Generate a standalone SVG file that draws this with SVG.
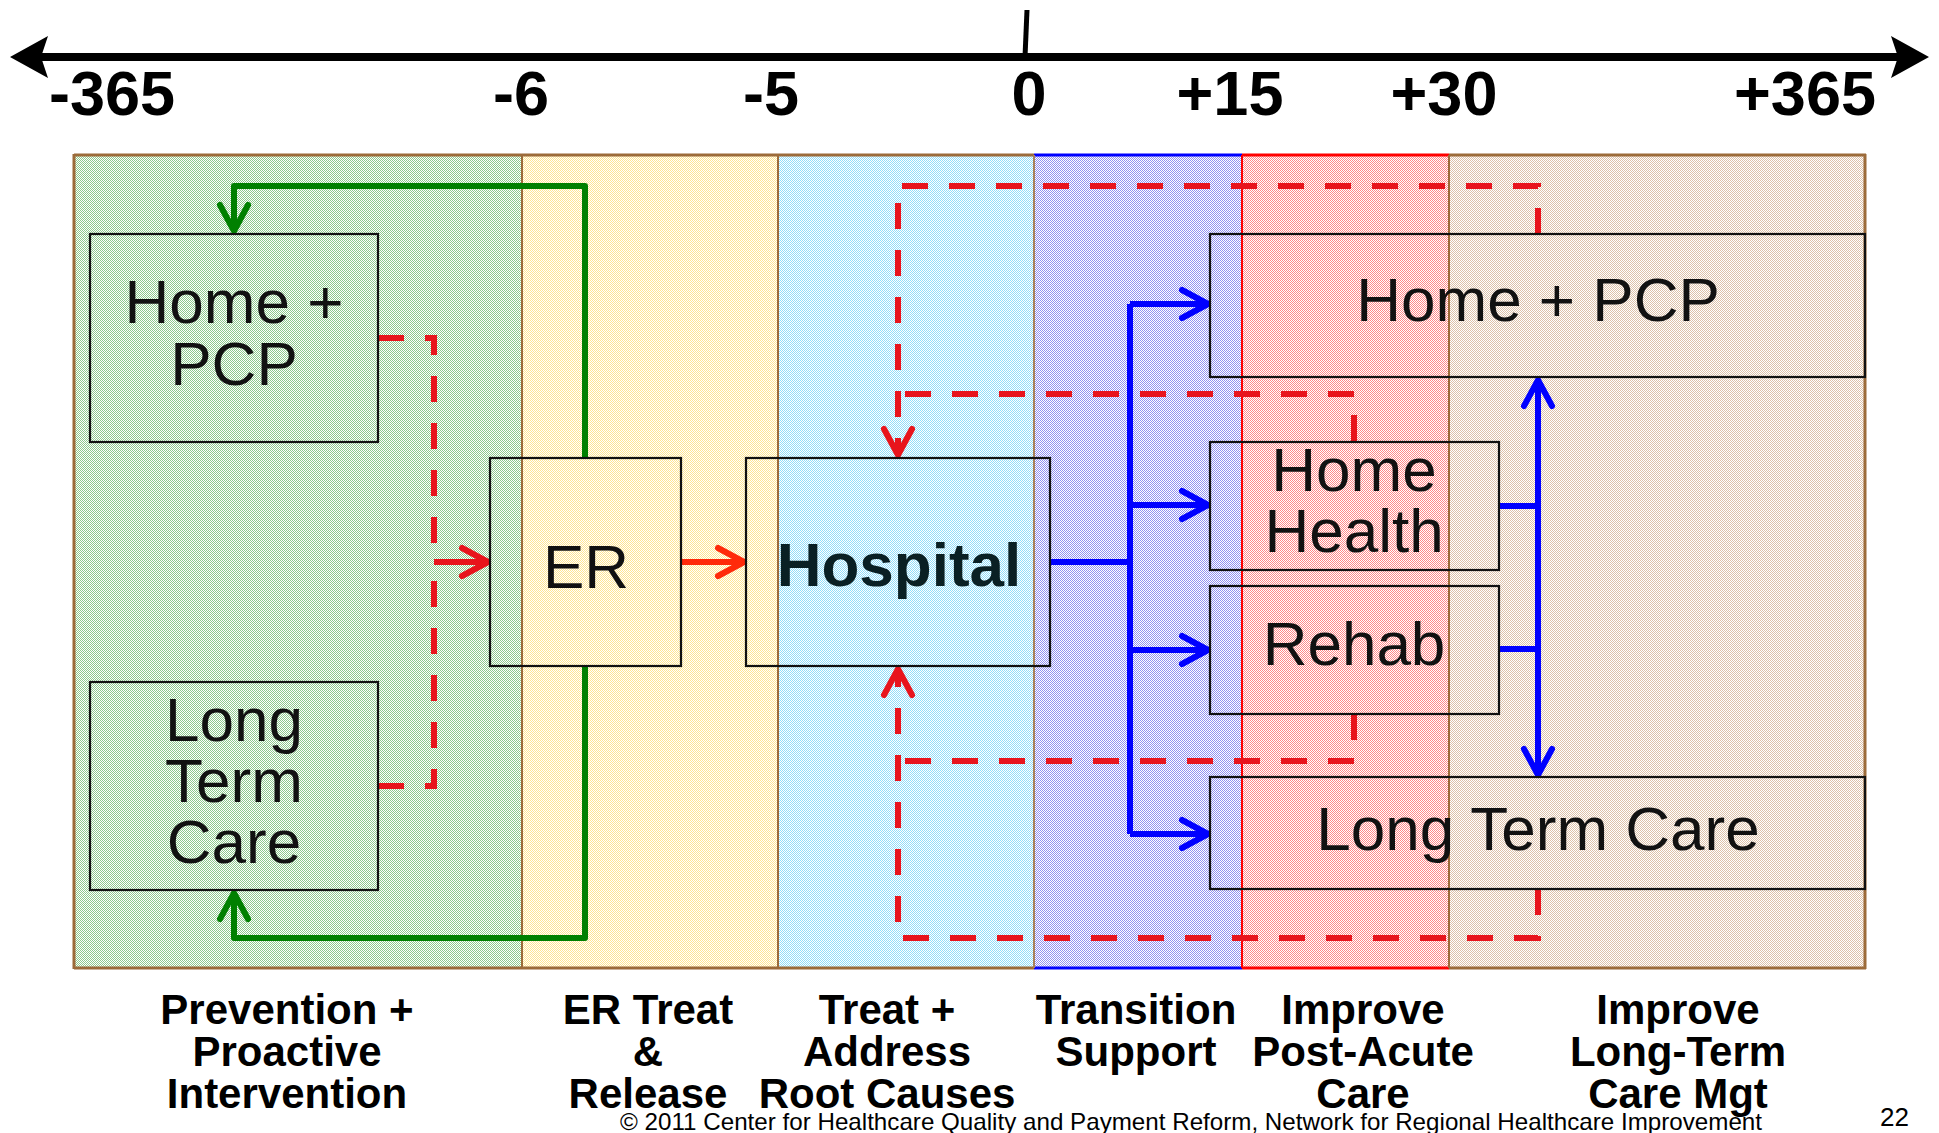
<svg xmlns="http://www.w3.org/2000/svg" width="1939" height="1133" viewBox="0 0 1939 1133">
  <style>
    .lbl { font-family: "Liberation Sans", Arial, sans-serif; fill: #111; }
    .axis { font-family: "Liberation Sans", Arial, sans-serif; font-weight: bold; font-size: 63px; fill: #000; text-anchor: middle; }
    .box { fill: none; stroke: #111; stroke-width: 2.2; }
    .node { font-size: 62px; text-anchor: middle; }
    .zone { font-family: "Liberation Sans", Arial, sans-serif; font-weight: bold; font-size: 42px; fill: #000; text-anchor: middle; }
    .green { fill: none; stroke: #008000; stroke-width: 6; stroke-linejoin: round; }
    .blue { fill: none; stroke: #0000ff; stroke-width: 6; stroke-linejoin: round; }
    .dash { fill: none; stroke: #e8141c; stroke-width: 6; stroke-dasharray: 26 21; }
    .divider { stroke-width: 2; }
  </style>
  <defs>
    <!-- dithered zone fills -->
    <pattern id="p-green" width="2" height="2" patternUnits="userSpaceOnUse">
      <rect width="2" height="2" fill="#ffffff"/><rect width="1" height="1" fill="#8dc98d"/><rect x="1" y="1" width="1" height="1" fill="#8dc98d"/>
    </pattern>
    <pattern id="p-yellow" width="2" height="2" patternUnits="userSpaceOnUse">
      <rect width="2" height="2" fill="#ffffff"/><rect width="1" height="1" fill="#ffe591"/><rect x="1" y="1" width="1" height="1" fill="#ffe591"/>
    </pattern>
    <pattern id="p-cyan" width="2" height="2" patternUnits="userSpaceOnUse">
      <rect width="2" height="2" fill="#ffffff"/><rect width="1" height="1" fill="#91ddf9"/><rect x="1" y="1" width="1" height="1" fill="#91ddf9"/>
    </pattern>
    <pattern id="p-blue" width="2" height="2" patternUnits="userSpaceOnUse">
      <rect width="2" height="2" fill="#ffffff"/><rect width="1" height="1" fill="#9191f1"/><rect x="1" y="1" width="1" height="1" fill="#9191f1"/>
    </pattern>
    <pattern id="p-red" width="2" height="2" patternUnits="userSpaceOnUse">
      <rect width="2" height="2" fill="#ffffff"/><rect width="1" height="1" fill="#ff8989"/><rect x="1" y="1" width="1" height="1" fill="#ff8989"/>
    </pattern>
    <pattern id="p-tan" width="2" height="2" patternUnits="userSpaceOnUse">
      <rect width="2" height="2" fill="#ffffff"/><rect width="1" height="1" fill="#ddc1a9"/><rect x="1" y="1" width="1" height="1" fill="#ddc1a9"/>
    </pattern>
    <!-- open V arrowheads -->
    <marker id="ah-green" markerWidth="40" markerHeight="40" refX="30" refY="20" orient="auto-start-reverse" markerUnits="userSpaceOnUse">
      <polyline points="4,6 30,20 4,34" fill="none" stroke="#008000" stroke-width="6" stroke-linecap="round" stroke-linejoin="round"/>
    </marker>
    <marker id="ah-blue" markerWidth="40" markerHeight="40" refX="30" refY="20" orient="auto-start-reverse" markerUnits="userSpaceOnUse">
      <polyline points="4,6 30,20 4,34" fill="none" stroke="#0000ff" stroke-width="6" stroke-linecap="round" stroke-linejoin="round"/>
    </marker>
    <marker id="ah-red" markerWidth="40" markerHeight="40" refX="30" refY="20" orient="auto-start-reverse" markerUnits="userSpaceOnUse">
      <polyline points="4,6 30,20 4,34" fill="none" stroke="#ff2a0a" stroke-width="6" stroke-linecap="round" stroke-linejoin="round"/>
    </marker>
    <marker id="ah-dash" markerWidth="40" markerHeight="40" refX="30" refY="20" orient="auto-start-reverse" markerUnits="userSpaceOnUse">
      <polyline points="4,6 30,20 4,34" fill="none" stroke="#e8141c" stroke-width="6" stroke-linecap="round" stroke-linejoin="round"/>
    </marker>
  </defs>

  <rect width="1939" height="1133" fill="#ffffff"/>

  <!-- timeline -->
  <g id="timeline">
    <line x1="40" y1="57" x2="1900" y2="57" stroke="#000" stroke-width="8"/>
    <polygon points="10,57 48,36 41,57 48,78" fill="#000"/>
    <polygon points="1929,57 1891,36 1898,57 1891,78" fill="#000"/>
    <line x1="1027" y1="10" x2="1025" y2="57" stroke="#000" stroke-width="5"/>
    <text class="axis" x="112" y="115">-365</text>
    <text class="axis" x="521" y="115">-6</text>
    <text class="axis" x="771" y="115">-5</text>
    <text class="axis" x="1029" y="115">0</text>
    <text class="axis" x="1230" y="115">+15</text>
    <text class="axis" x="1444" y="115">+30</text>
    <text class="axis" x="1805" y="115">+365</text>
  </g>

  <!-- time zones -->
  <g id="zones">
    <rect x="74" y="155" width="448" height="813" fill="url(#p-green)"/>
    <rect x="522" y="155" width="256" height="813" fill="url(#p-yellow)"/>
    <rect x="778" y="155" width="256" height="813" fill="url(#p-cyan)"/>
    <rect x="1034" y="155" width="208" height="813" fill="url(#p-blue)"/>
    <rect x="1242" y="155" width="207" height="813" fill="url(#p-red)"/>
    <rect x="1449" y="155" width="416" height="813" fill="url(#p-tan)"/>
    <!-- borders -->
    <g stroke-width="3">
      <line x1="74" y1="155" x2="1034" y2="155" stroke="#9c6b3a"/>
      <line x1="74" y1="968" x2="1034" y2="968" stroke="#9c6b3a"/>
      <line x1="1034" y1="155" x2="1242" y2="155" stroke="#0000ff"/>
      <line x1="1034" y1="968" x2="1242" y2="968" stroke="#0000ff"/>
      <line x1="1242" y1="155" x2="1449" y2="155" stroke="#ff0000"/>
      <line x1="1242" y1="968" x2="1449" y2="968" stroke="#ff0000"/>
      <line x1="1449" y1="155" x2="1866" y2="155" stroke="#9c6b3a"/>
      <line x1="1449" y1="968" x2="1866" y2="968" stroke="#9c6b3a"/>
      <line x1="74" y1="154" x2="74" y2="969" stroke="#9c6b3a"/>
      <line x1="1865" y1="154" x2="1865" y2="969" stroke="#9c6b3a"/>
    </g>
    <line class="divider" x1="522" y1="155" x2="522" y2="968" stroke="#9c6b3a"/>
    <line class="divider" x1="778" y1="155" x2="778" y2="968" stroke="#9c6b3a"/>
    <line class="divider" x1="1034" y1="155" x2="1034" y2="968" stroke="#a8825a"/>
    <line class="divider" x1="1242" y1="155" x2="1242" y2="968" stroke="#ff0000"/>
    <line class="divider" x1="1449" y1="155" x2="1449" y2="968" stroke="#9c6b3a"/>
  </g>

  <!-- connectors -->
  <g id="connectors">
    <!-- ER back to community -->
    <path class="green" d="M585,457 V186 H234 V231" marker-end="url(#ah-green)"/>
    <path class="green" d="M585,666 V938 H234 V893" marker-end="url(#ah-green)"/>
    <!-- community into ER -->
    <path class="dash" d="M378,338 H434 V562"/>
    <path class="dash" d="M378,786 H434 V562"/>
    <path d="M434,562 H488" fill="none" stroke="#e8141c" stroke-width="6" marker-end="url(#ah-dash)"/>
    <!-- ER to hospital -->
    <path d="M681,562 H744" fill="none" stroke="#ff2a0a" stroke-width="6" marker-end="url(#ah-red)"/>
    <!-- readmissions -->
    <path class="dash" d="M1538,234 V186 H898 V455" marker-end="url(#ah-dash)"/>
    <path class="dash" d="M1354,441 V394 H904"/>
    <path class="dash" d="M1354,714 V761 H904"/>
    <path class="dash" d="M1538,889 V938 H898 V669" marker-end="url(#ah-dash)"/>
    <!-- discharge paths -->
    <path class="blue" d="M1050,562 H1130" stroke-width="8"/>
    <path class="blue" d="M1130,304 V834" stroke-width="7"/>
    <path class="blue" d="M1130,304 H1208" marker-end="url(#ah-blue)"/>
    <path class="blue" d="M1130,505 H1208" marker-end="url(#ah-blue)"/>
    <path class="blue" d="M1130,650 H1208" marker-end="url(#ah-blue)"/>
    <path class="blue" d="M1130,834 H1208" marker-end="url(#ah-blue)"/>
    <path class="blue" d="M1499,506 H1538"/>
    <path class="blue" d="M1499,649 H1538"/>
    <path class="blue" d="M1538,380 V775" marker-start="url(#ah-blue)" marker-end="url(#ah-blue)"/>
  </g>

  <!-- care settings -->
  <g id="home-pcp-before">
    <rect class="box" x="90" y="234" width="288" height="208"/>
    <text class="lbl node" x="234" y="323">Home +</text>
    <text class="lbl node" x="234" y="385">PCP</text>
  </g>
  <g id="ltc-before">
    <rect class="box" x="90" y="682" width="288" height="208"/>
    <text class="lbl node" x="234" y="741">Long</text>
    <text class="lbl node" x="234" y="802">Term</text>
    <text class="lbl node" x="234" y="863">Care</text>
  </g>
  <g id="er">
    <rect class="box" x="490" y="458" width="191" height="208"/>
    <text class="lbl node" x="586" y="588">ER</text>
  </g>
  <g id="hospital">
    <rect class="box" x="746" y="458" width="304" height="208"/>
    <text class="lbl node" x="899" y="586" font-weight="bold" style="fill:#0a2024">Hospital</text>
  </g>
  <g id="home-pcp-after">
    <rect class="box" x="1210" y="234" width="655" height="143"/>
    <text class="lbl node" x="1538" y="321">Home + PCP</text>
  </g>
  <g id="home-health">
    <rect class="box" x="1210" y="442" width="289" height="128"/>
    <text class="lbl node" x="1354" y="491">Home</text>
    <text class="lbl node" x="1354" y="552">Health</text>
  </g>
  <g id="rehab">
    <rect class="box" x="1210" y="586" width="289" height="128"/>
    <text class="lbl node" x="1354" y="665">Rehab</text>
  </g>
  <g id="ltc-after">
    <rect class="box" x="1210" y="777" width="655" height="112"/>
    <text class="lbl node" x="1538" y="850">Long Term Care</text>
  </g>

  <!-- zone captions -->
  <g id="captions">
    <text class="zone" x="287" y="1024">Prevention +<tspan x="287" dy="42">Proactive</tspan><tspan x="287" dy="42">Intervention</tspan></text>
    <text class="zone" x="648" y="1024">ER Treat<tspan x="648" dy="42">&amp;</tspan><tspan x="648" dy="42">Release</tspan></text>
    <text class="zone" x="887" y="1024">Treat +<tspan x="887" dy="42">Address</tspan><tspan x="887" dy="42">Root Causes</tspan></text>
    <text class="zone" x="1136" y="1024">Transition<tspan x="1136" dy="42">Support</tspan></text>
    <text class="zone" x="1363" y="1024">Improve<tspan x="1363" dy="42">Post-Acute</tspan><tspan x="1363" dy="42">Care</tspan></text>
    <text class="zone" x="1678" y="1024">Improve<tspan x="1678" dy="42">Long-Term</tspan><tspan x="1678" dy="42">Care Mgt</tspan></text>
  </g>

  <!-- footer -->
  <text class="lbl" x="620" y="1130" font-size="24" textLength="1142" lengthAdjust="spacingAndGlyphs" style="fill:#000">©  2011 Center for Healthcare Quality and Payment Reform, Network for Regional Healthcare Improvement</text>
  <text class="lbl" x="1880" y="1126" font-size="26" style="fill:#000">22</text>
</svg>
